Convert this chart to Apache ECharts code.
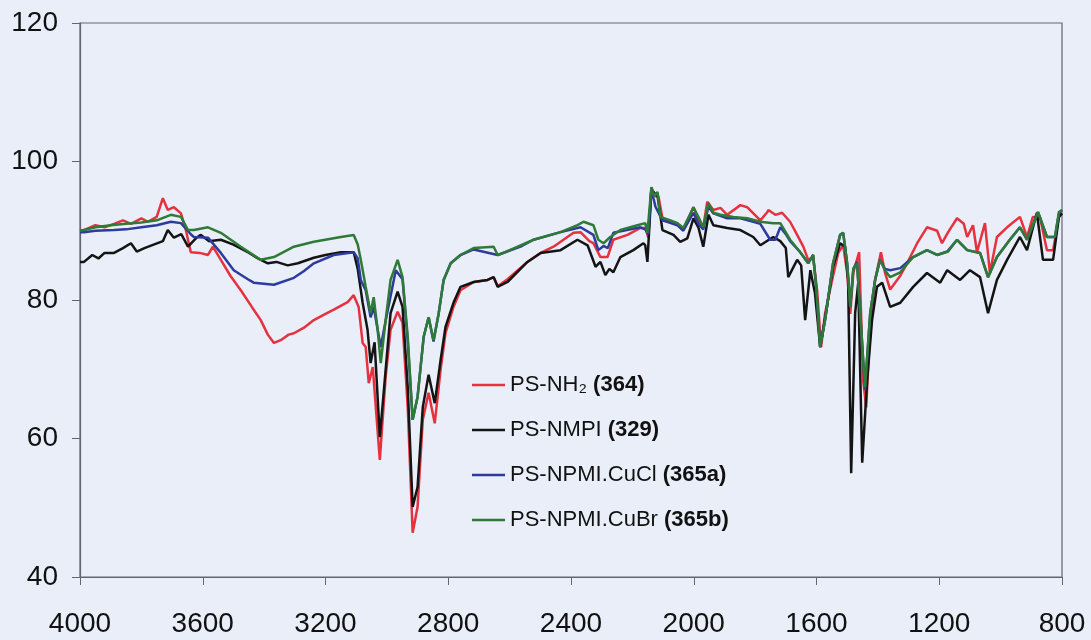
<!DOCTYPE html>
<html>
<head>
<meta charset="utf-8">
<script src="https://cdn.jsdelivr.net/npm/echarts@6/dist/echarts.min.js"></script>
<style>
html,body{margin:0;padding:0;background:#e9eef8;}
#chart{width:1091px;height:640px;}
</style>
</head>
<body>
<div id="chart"></div>
<script>
// X axis ticks (wavenumber, cm-1), Y axis ticks (%T)
const xTicks = [4000, 3600, 3200, 2800, 2400, 2000, 1600, 1200, 800];
const yTicks = [40, 60, 80, 100, 120];

const seriesNames = ['PS-NH₂', 'PS-NMPI', 'PS-NPMI.CuCl', 'PS-NPMI.CuBr'];
const seriesCodes = ['(364)', '(329)', '(365a)', '(365b)'];

// PS-NH2 (364)
const redWN = [4000,3987,3950,3920,3889,3860,3834,3800,3779,3750,3730,3714,3694,3671,3655,3639,3610,3583,3567,3541,3510,3476,3440,3411,3388,3368,3346,3320,3303,3270,3238,3200,3173,3128,3108,3092,3079,3069,3059,3046,3023,3004,2988,2965,2949,2932,2916,2900,2883,2864,2844,2825,2809,2783,2760,2717,2672,2652,2639,2607,2542,2499,2457,2392,2369,2340,2327,2304,2281,2262,2216,2174,2158,2148,2138,2125,2115,2102,2076,2053,2034,2001,1985,1969,1956,1936,1913,1891,1848,1826,1783,1760,1757,1734,1712,1686,1663,1643,1627,1611,1598,1585,1572,1549,1529,1513,1500,1490,1480,1461,1448,1438,1425,1409,1390,1377,1360,1327,1305,1272,1240,1207,1191,1171,1142,1120,1109,1090,1077,1051,1035,1012,979,937,914,895,872,849,829,810,800];
const redT  = [90.0,90.1,90.8,90.5,91.0,91.5,91.0,91.8,91.3,92.0,94.7,93.0,93.4,92.5,90.1,86.9,86.8,86.5,87.7,85.8,83.5,81.4,79.0,77.1,75.0,73.8,74.2,75.0,75.2,76.0,77.1,78.0,78.6,79.7,80.7,79.0,73.8,73.2,68.0,70.3,56.9,68.9,75.7,78.3,76.7,64.5,46.4,50.1,62.7,66.6,62.2,69.9,75.2,79.0,81.4,82.6,82.9,83.3,82.0,83.0,85.5,86.8,87.7,89.7,89.8,88.5,88.2,86.2,86.2,88.7,89.4,90.4,90.4,89.0,96.2,95.0,95.0,91.8,91.2,90.8,90.1,93.4,91.5,90.5,94.2,93.0,93.3,92.3,93.7,93.4,91.5,92.7,93.0,92.3,92.6,91.3,89.4,87.7,85.8,86.2,81.4,73.2,78.1,82.9,86.8,87.9,83.9,78.0,84.0,86.9,68.4,64.5,76.0,82.9,86.9,84.0,81.5,83.5,85.3,88.2,90.5,90.0,88.2,89.8,91.8,91.0,89.1,90.8,86.9,91.1,83.9,89.1,90.5,92.0,89.1,92.0,92.0,87.2,87.2,92.0,92.5];

// PS-NMPI (329)
const blackWN = [4000,3987,3960,3940,3920,3889,3860,3834,3815,3790,3760,3730,3714,3694,3670,3648,3620,3606,3580,3541,3500,3453,3420,3388,3360,3323,3290,3238,3200,3150,3108,3095,3079,3063,3053,3040,3023,3004,2988,2965,2949,2932,2916,2900,2883,2864,2844,2825,2809,2783,2760,2717,2672,2652,2639,2607,2542,2499,2434,2379,2346,2320,2304,2288,2275,2262,2239,2197,2164,2158,2151,2138,2118,2102,2066,2044,2021,2001,1985,1969,1952,1936,1891,1848,1806,1783,1741,1718,1700,1692,1663,1650,1637,1620,1605,1588,1566,1546,1523,1507,1497,1487,1474,1464,1451,1435,1419,1403,1386,1360,1327,1285,1240,1197,1174,1132,1100,1067,1041,1012,979,937,914,882,862,829,810,800];
const blackT  = [85.5,85.5,86.5,86.0,86.8,86.8,87.5,88.2,87.0,87.5,88.0,88.5,90.1,89.0,89.5,87.7,89.0,89.4,88.5,88.7,88.0,86.9,86.0,85.3,85.5,85.0,85.3,86.1,86.5,86.9,86.9,84.5,79.6,75.7,70.9,73.9,60.2,69.9,78.1,81.2,79.0,67.4,50.1,53.0,64.5,69.2,65.1,71.3,76.1,79.6,81.9,82.6,82.9,83.3,81.9,82.6,85.5,86.8,87.2,88.7,87.9,84.8,85.5,83.6,84.5,84.0,86.2,87.2,88.2,87.9,85.5,95.9,95.0,90.1,89.4,88.4,88.9,91.8,90.5,87.7,92.3,90.8,90.4,90.1,89.1,87.9,89.1,88.5,87.5,83.3,85.8,85.0,77.1,84.3,81.0,73.2,79.0,84.8,88.2,87.7,82.9,55.0,78.1,82.5,56.5,68.4,77.1,81.9,82.5,79.0,79.6,81.9,83.9,82.5,84.3,82.9,84.3,83.3,78.1,82.9,85.8,89.1,87.2,92.6,85.8,85.8,92.0,92.5];

// PS-NPMI.CuCl (365a)
const blueWN = [4000,3987,3950,3889,3850,3800,3750,3704,3671,3639,3629,3583,3541,3499,3453,3434,3368,3303,3270,3238,3173,3108,3095,3085,3069,3053,3043,3020,3004,2971,2949,2932,2916,2900,2880,2864,2848,2831,2815,2792,2760,2717,2639,2560,2522,2434,2369,2327,2311,2294,2280,2262,2174,2158,2148,2138,2125,2102,2053,2034,2001,1985,1969,1952,1936,1891,1848,1806,1783,1751,1734,1718,1700,1686,1653,1627,1611,1601,1588,1572,1546,1523,1513,1500,1490,1480,1468,1442,1425,1409,1393,1377,1360,1327,1285,1240,1207,1174,1142,1109,1067,1041,1012,970,937,914,878,849,823,810,800];
const blueT  = [89.8,89.8,90.0,90.1,90.2,90.5,90.8,91.3,91.1,89.5,89.1,89.0,86.8,84.3,83.0,82.5,82.2,83.2,84.2,85.3,86.5,86.9,86.0,82.9,81.4,77.5,79.0,73.2,77.0,84.3,83.0,74.0,62.7,66.0,74.7,77.5,74.0,78.1,82.9,85.3,86.5,87.3,86.5,87.8,88.7,89.8,90.5,89.4,87.2,87.8,87.5,89.7,90.5,90.2,89.5,96.0,93.5,91.5,90.8,90.0,92.6,91.0,90.2,93.5,92.5,91.8,91.8,91.3,91.0,88.7,88.7,90.5,89.5,88.5,86.9,85.3,86.5,81.9,73.2,77.1,85.3,89.4,89.7,85.3,79.0,84.5,85.5,67.0,78.1,82.9,85.8,84.5,84.3,84.6,86.2,87.2,86.5,87.0,88.7,87.2,86.8,83.3,86.2,88.7,90.5,88.7,92.7,89.1,89.1,92.5,93.0];

// PS-NPMI.CuBr (365b)
const greenWN = [4000,3987,3950,3900,3850,3800,3750,3704,3671,3648,3629,3583,3541,3476,3411,3368,3303,3238,3150,3108,3095,3085,3069,3053,3043,3030,3020,3004,2988,2965,2949,2932,2916,2900,2880,2864,2848,2831,2815,2792,2760,2717,2652,2639,2620,2522,2434,2379,2359,2327,2311,2294,2272,2239,2184,2158,2151,2138,2129,2118,2109,2076,2053,2034,2001,1985,1969,1952,1936,1913,1871,1826,1783,1741,1718,1686,1653,1627,1611,1601,1588,1572,1546,1523,1513,1500,1490,1480,1468,1442,1425,1409,1393,1377,1360,1327,1285,1240,1207,1171,1142,1109,1067,1041,1012,970,937,914,878,849,823,810,800];
const greenT  = [90.0,90.1,90.5,90.8,91.0,91.2,91.5,92.3,92.0,90.1,90.1,90.5,89.7,87.7,85.8,86.2,87.7,88.4,89.1,89.4,88.0,85.8,81.9,78.1,80.4,75.7,70.9,77.1,82.9,85.8,83.3,74.7,62.7,66.0,74.7,77.5,74.2,78.1,82.9,85.3,86.5,87.5,87.7,86.5,86.8,88.7,89.8,90.8,91.3,90.8,88.7,88.2,89.1,90.1,90.8,91.1,89.7,96.3,95.0,95.6,92.0,91.5,91.1,90.4,93.4,92.0,90.5,94.0,92.6,92.3,92.0,91.8,91.3,91.1,91.1,88.7,86.9,85.3,86.5,81.9,73.2,77.1,85.3,89.4,89.7,85.3,79.0,84.5,85.3,67.4,78.1,82.9,85.8,84.3,83.3,84.0,86.2,87.2,86.5,87.0,88.7,87.2,86.8,83.3,86.2,88.7,90.5,88.7,92.7,89.1,89.1,92.7,93.0];

const colors = ['#e5323e', '#141414', '#2c3b9c', '#2e7a36'];
const allWN = [redWN, blackWN, blueWN, greenWN];
const allT = [redT, blackT, blueT, greenT];

const chart = echarts.init(document.getElementById('chart'));
const series = seriesNames.map((name, i) => ({
  name: name,
  type: 'line',
  symbol: 'none',
  smooth: false,
  data: allWN[i].map((w, k) => [w, allT[i][k]]),
  lineStyle: { color: colors[i], width: 2.5 },
  itemStyle: { color: colors[i] },
  z: 2 + i
}));

const font = 'Liberation Sans, Arial, sans-serif';

chart.setOption({
  backgroundColor: '#e9eef8',
  animation: false,
  grid: { left: 80, right: 29, top: 23, bottom: 63, show: true, borderColor: '#62666f', borderWidth: 1.2, backgroundColor: 'transparent' },
  xAxis: {
    type: 'value', inverse: true, min: 800, max: 4000, interval: 400,
    axisLine: { show: true, lineStyle: { color: '#62666f', width: 1.2 } },
    axisTick: { show: true, inside: false, length: 8, lineStyle: { color: '#62666f' } },
    splitLine: { show: false },
    axisLabel: { margin: 33, fontSize: 28, color: '#111', fontFamily: font,
      formatter: v => xTicks.includes(v) ? String(v) : '' }
  },
  yAxis: {
    type: 'value', min: 40, max: 120, interval: 20,
    axisLine: { show: true, lineStyle: { color: '#62666f', width: 1.2 } },
    axisTick: { show: true, inside: false, length: 8, lineStyle: { color: '#62666f' } },
    splitLine: { show: false },
    axisLabel: { margin: 22, fontSize: 28, color: '#111', fontFamily: font,
      formatter: v => yTicks.includes(v) ? String(v) : '' }
  },
  legend: {
    orient: 'vertical', left: 467, top: 369,
    icon: 'rect',
    itemWidth: 33, itemHeight: 2.5, itemGap: 23,
    data: seriesNames,
    formatter: name => {
      const i = seriesNames.indexOf(name);
      return name + ' {b|' + seriesCodes[i] + '}';
    },
    textStyle: {
      fontSize: 22, lineHeight: 22, color: '#111', fontFamily: font,
      rich: { b: { fontSize: 22, lineHeight: 22, fontWeight: 'bold', color: '#111', fontFamily: font } }
    }
  },
  series: series
});
</script>
</body>
</html>
